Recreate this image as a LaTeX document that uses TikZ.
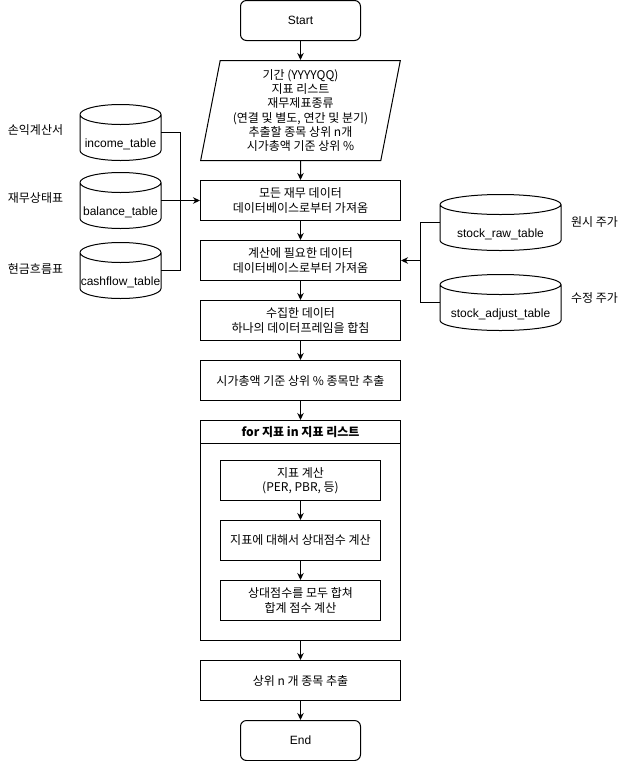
\documentclass[tikz,border=0pt]{standalone}
\usepackage{fontspec}
\setmainfont{Liberation Sans}
\newfontfamily\kr{Noto Sans CJK KR}
\usetikzlibrary{shapes.geometric,arrows.meta,positioning,calc}

\begin{document}
\begin{tikzpicture}[x=1pt,y=-1pt, line width=1pt,
  font=\fontsize{12}{14.3}\selectfont,
  proc/.style={draw, minimum width=200pt, minimum height=40pt, inner sep=0pt, align=center, font=\kr\fontsize{12}{14.3}\selectfont},
  inner/.style={proc, minimum width=160pt},
  terminal/.style={draw, rounded corners=6pt, minimum width=120pt, minimum height=40pt, inner sep=0pt},
  db/.style={minimum width=80pt, minimum height=55pt, inner sep=0pt, text height=30pt, text depth=0pt},
  side/.style={font=\kr\fontsize{12}{14.3}\selectfont},
  arr/.style={-{Stealth[length=7pt,width=6.5pt]}}]
\useasboundingbox (-0.5,-0.5) rectangle (640.5,760.5);
\node[terminal] (start) at (300,20) {Start};
\node[draw, trapezium, trapezium left angle=78.7, trapezium right angle=101.3, trapezium stretches=true, minimum width=200pt, minimum height=100pt, inner sep=0pt, align=center, font=\kr\fontsize{12}{14.3}\selectfont] (input) at (300,110)
  {기간 (YYYYQQ)\\지표 리스트\\재무제표종류\\(연결 및 별도, 연간 및 분기)\\추출할 종목 상위 n개\\시가총액 기준 상위 \%};
\node[proc] (fin) at (300,200) {모든 재무 데이터\\데이터베이스로부터 가져옴};
\node[proc] (calc) at (300,260) {계산에 필요한 데이터\\데이터베이스로부터 가져옴};
\node[proc] (merge) at (300,320) {수집한 데이터\\하나의 데이터프레임을 합침};
\node[proc] (filter) at (300,380) {시가총액 기준 상위 \% 종목만 추출};
\node[draw, minimum width=200pt, minimum height=220pt] (loop) at (300,530) {};
\node[draw, minimum width=200pt, minimum height=23pt, inner sep=0pt, font=\kr\bfseries\fontsize{12}{14.3}\selectfont] (looptitle) at (300,431.5) {for 지표 in 지표 리스트};
\node[inner] (ind) at (300,480) {지표 계산\\(PER, PBR, 등)};
\node[inner] (rel) at (300,540) {지표에 대해서 상대점수 계산};
\node[inner] (sum) at (300,600) {상대점수를 모두 합쳐\\합계 점수 계산};
\node[proc] (pick) at (300,680) {상위 n 개 종목 추출};
\node[terminal] (end) at (300,740) {End};
% tables
\node[db] (income) at (120,132) {income\_table};
\node[db] (balance) at (120,200) {balance\_table};
\node[db] (cash) at (120,270) {cashflow\_table};
\node[db, minimum width=120pt] (raw) at (500,222) {stock\_raw\_table};
\node[db, minimum width=120pt] (adj) at (500,302) {stock\_adjust\_table};
\foreach \t in {income,balance,cash,raw,adj}
  \draw let \p1=(\t.north west), \p2=(\t.south east), \n1={(\x2-\x1)/2} in
    (\x1,\y1-10pt) arc[start angle=180, end angle=540, x radius=\n1, y radius=10pt]
    -- (\x1,\y2+10pt) arc[start angle=180, end angle=360, x radius=\n1, y radius=10pt]
    -- (\x2,\y1-10pt);
\node[side] (l1) at (35,130) {손익계산서};
\node[side] (l2) at (35,198) {재무상태표};
\node[side] (l3) at (35,268) {현금흐름표};
\node[side] (l4) at (594,222) {원시 주가};
\node[side] (l5) at (594,298) {수정 주가};
\coordinate (lj) at (180,200);
\coordinate (rj) at (420,260);
\draw (income.east) -| (lj);
\draw (cash.east) -| (lj);
\draw[arr] (balance.east) -- (fin);
\draw (raw.west) -| (rj);
\draw (adj.west) -| (rj);
\draw[arr] (rj) -- (calc);
\draw[arr] (start) -- (input);
\draw[arr] (input) -- (fin);
\draw[arr] (fin) -- (calc);
\draw[arr] (calc) -- (merge);
\draw[arr] (merge) -- (filter);
\draw[arr] (filter) -- (looptitle);
\draw[arr] (ind) -- (rel);
\draw[arr] (rel) -- (sum);
\draw[arr] (loop) -- (pick);
\draw[arr] (pick) -- (end);
\end{tikzpicture}
\end{document}
